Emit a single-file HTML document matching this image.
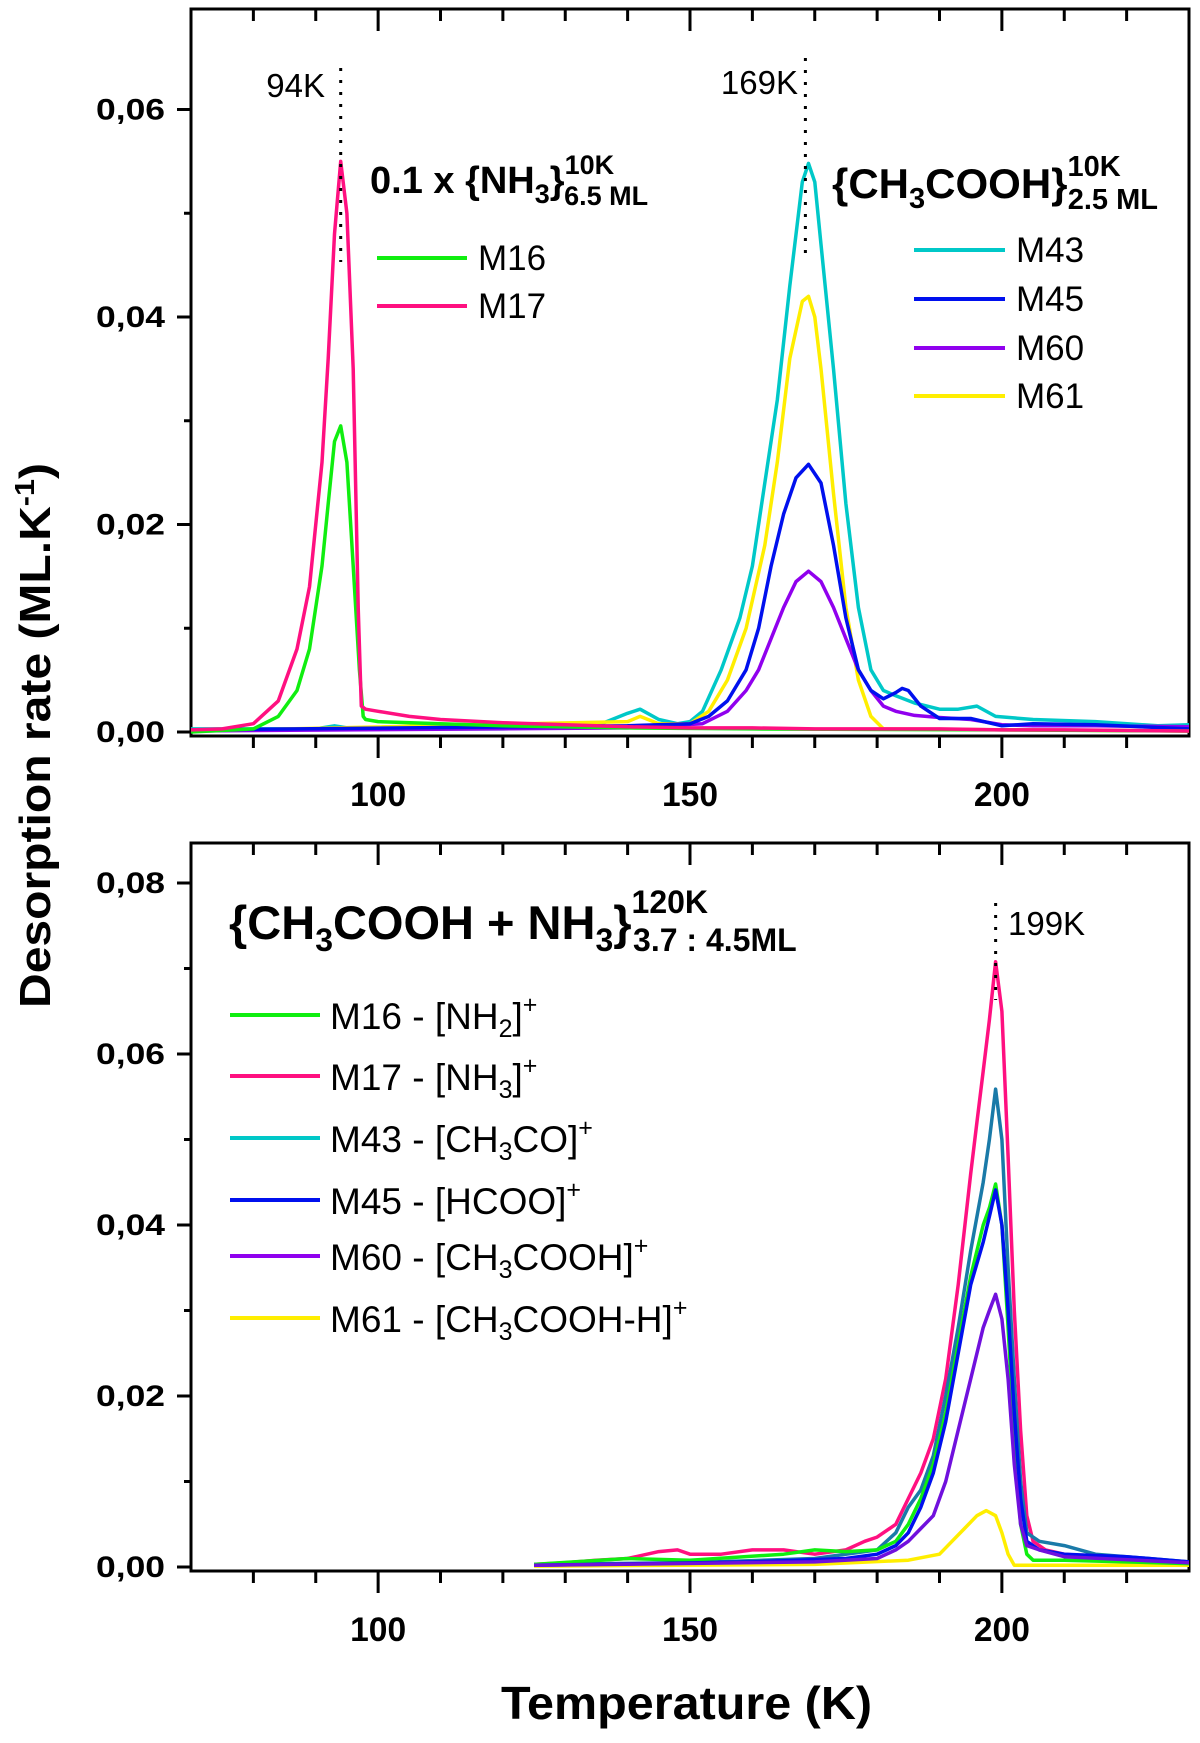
<!DOCTYPE html>
<html><head><meta charset="utf-8"><style>
html,body{margin:0;padding:0;background:#fff;}
svg{display:block;font-family:"Liberation Sans",Arial,sans-serif;}
</style></head><body>
<svg id="chart" width="1200" height="1743" viewBox="0 0 1200 1743" xmlns="http://www.w3.org/2000/svg">
<g id="axes"></g><g id="series"></g><g id="labels"></g>
</svg>
<script>
// ---- data (top panel: pure films) ----
const topM17T=[70,75,80,84,87,89,91,92,93,94,95,96,96.8,97.3,98,100,105,110,120,130,140,150,160,170,180,190,200,210,230];
const topM17V=[0.0002,0.0003,0.0008,0.003,0.008,0.014,0.026,0.036,0.048,0.055,0.05,0.035,0.012,0.0025,0.0022,0.002,0.0015,0.0012,0.0009,0.0007,0.0005,0.0004,0.0004,0.0003,0.0003,0.0003,0.0002,0.0002,0.0001];
const topM16T=[70,80,84,87,89,91,92,93,94,95,96,97,97.6,98,100,110,120,140,160,200,230];
const topM16V=[0,0.0003,0.0015,0.004,0.008,0.016,0.022,0.028,0.0295,0.026,0.016,0.006,0.0015,0.0012,0.001,0.0008,0.0006,0.0004,0.0003,0.0002,0.0001];
const topM43T=[70,90,93,96,120,135,140,142,145,148,150,152,155,158,160,162,164,166,168,169,170,171,173,175,177,179,181,183,186,190,193,196,199,205,215,225,230];
const topM43V=[0.0003,0.0003,0.0006,0.0003,0.0003,0.0006,0.0018,0.0022,0.0012,0.0008,0.001,0.002,0.006,0.011,0.016,0.024,0.032,0.043,0.053,0.0548,0.053,0.047,0.035,0.022,0.012,0.006,0.004,0.0035,0.0028,0.0022,0.0022,0.0025,0.0015,0.0012,0.001,0.0006,0.0007];
const topM61T=[70,140,142,145,150,153,156,159,162,164,166,168,169,170,171,173,175,177,179,181,230];
const topM61V=[0.0001,0.001,0.0015,0.0008,0.0008,0.002,0.005,0.01,0.018,0.026,0.036,0.0415,0.042,0.04,0.035,0.023,0.012,0.005,0.0015,0.0003,0.0001];
const topM45T=[70,140,150,153,156,159,161,163,165,167,169,171,173,175,177,179,181,183,184,185,187,190,195,200,205,215,230];
const topM45V=[0.0002,0.0006,0.0008,0.0015,0.003,0.006,0.01,0.016,0.021,0.0245,0.0258,0.024,0.018,0.011,0.006,0.004,0.0032,0.0038,0.0042,0.004,0.0025,0.0013,0.0013,0.0006,0.0008,0.0007,0.0003];
const topM60T=[70,140,152,156,159,161,163,165,167,169,171,173,175,177,179,181,183,186,190,195,200,205,215,230];
const topM60V=[0.0001,0.0004,0.0008,0.002,0.004,0.006,0.009,0.012,0.0145,0.0155,0.0145,0.012,0.009,0.006,0.004,0.0025,0.002,0.0016,0.0014,0.0012,0.0007,0.0006,0.0006,0.0005];
// ---- data (bottom panel: mixture) ----
const botM17T=[125,130,135,140,145,148,150,155,160,165,170,175,178,180,183,185,187,189,191,193,195,196,197,198,199,200,201,202,203,204,205,207,210,220,230];
const botM17V=[0.0003,0.0005,0.0008,0.001,0.0018,0.002,0.0015,0.0015,0.002,0.002,0.0015,0.002,0.003,0.0035,0.005,0.008,0.011,0.015,0.022,0.033,0.046,0.052,0.058,0.064,0.0708,0.065,0.048,0.03,0.016,0.006,0.003,0.002,0.0015,0.001,0.0006];
const botM43T=[125,150,170,180,183,185,187,189,191,193,195,197,198,199,200,201,202,203,204,206,210,215,220,230];
const botM43V=[0.0003,0.0005,0.001,0.002,0.004,0.007,0.009,0.013,0.02,0.028,0.037,0.045,0.05,0.0559,0.05,0.035,0.022,0.01,0.004,0.003,0.0025,0.0015,0.0012,0.0006];
const botM16T=[125,140,150,165,170,175,180,183,185,187,189,191,193,195,197,198,199,200,201,202,203,204,205,210,230];
const botM16V=[0.0003,0.001,0.0008,0.0015,0.002,0.0018,0.002,0.003,0.005,0.008,0.012,0.018,0.026,0.034,0.04,0.042,0.0448,0.04,0.028,0.015,0.005,0.0015,0.0008,0.0008,0.0004];
const botM45T=[125,160,175,180,183,185,187,189,191,193,195,197,198,199,200,201,202,203,204,206,210,220,230];
const botM45V=[0.0002,0.0006,0.001,0.0015,0.0025,0.004,0.007,0.011,0.017,0.025,0.033,0.038,0.041,0.0441,0.04,0.03,0.018,0.008,0.003,0.002,0.0015,0.0012,0.0006];
const botM60T=[125,170,180,183,185,187,189,191,193,195,197,198,199,200,201,202,203,204,206,210,230];
const botM60V=[0.0002,0.0006,0.001,0.002,0.003,0.0045,0.006,0.01,0.016,0.022,0.028,0.03,0.0319,0.029,0.022,0.012,0.005,0.0025,0.002,0.0012,0.0005];
const botM61T=[125,170,185,190,192,194,196,197.5,199,200,201,202,230];
const botM61V=[0.0001,0.0003,0.0008,0.0015,0.003,0.0045,0.006,0.0066,0.006,0.004,0.0015,0.0002,0.0002];
// ---- ticks ----
const xTickLabels=["100","150","200"];
const xTickValues=[100,150,200];
const topYTickValues=[0,0.02,0.04,0.06];
const topYTickLabels=["0,00","0,02","0,04","0,06"];
const botYTickValues=[0,0.02,0.04,0.06,0.08];
const botYTickLabels=["0,00","0,02","0,04","0,06","0,08"];

const NS="http://www.w3.org/2000/svg";
const X0=191,X1=1189,TMIN=70,TMAX=230;
function xs(t){return X0+(t-TMIN)/(TMAX-TMIN)*(X1-X0);}
const topP={top:9,bot:736,y0:732,k:207.5/0.02};
const botP={top:843,bot:1571,y0:1567,k:171/0.02};
function ys(p,v){return p.y0-v*p.k;}
function mk(tag,attrs,parent){const e=document.createElementNS(NS,tag);for(const a in attrs)e.setAttribute(a,attrs[a]);parent.appendChild(e);return e;}
const axes=document.getElementById('axes'),series=document.getElementById('series'),labels=document.getElementById('labels');

const defs=mk('defs',{},document.getElementById('chart'));
[['clipTop',topP],['clipBot',botP]].forEach(([id,p])=>{const c=mk('clipPath',{id:id},defs);mk('rect',{x:X0,y:p.top,width:X1-X0,height:p.bot-p.top},c);});

function panel(p,yv,yl,name){
  const f=mk('rect',{x:X0,y:p.top,width:X1-X0,height:p.bot-p.top,fill:'none',stroke:'#000','stroke-width':3},axes);
  
  
  for(let t=80;t<=220;t+=10){
    const major=(t%50===0);
    const b=mk('line',{x1:xs(t),x2:xs(t),y1:p.bot,y2:p.bot+(major?22:12),stroke:'#000','stroke-width':3},axes);
    
    
    const u=mk('line',{x1:xs(t),x2:xs(t),y1:p.top,y2:p.top+(major?22:12),stroke:'#000','stroke-width':3},axes);
    
    
  }
  xTickValues.forEach((t,i)=>{
    const tx=mk('text',{x:xs(t),y:p.bot+70,'text-anchor':'middle','font-size':34,'font-weight':'bold',textLength:56,lengthAdjust:'spacingAndGlyphs'},labels);
    tx.textContent=xTickLabels[i];
    
    
  });
  const vmax=(p.y0-p.top)/p.k;
  for(let v=0;v<=vmax+1e-9;v+=0.01){
    const major=Math.round(v*100)%2===0;
    const l=mk('line',{x1:X0-(major?14:7),x2:X0,y1:ys(p,v),y2:ys(p,v),stroke:'#000','stroke-width':3},axes);
    
    
  }
  yv.forEach((v,i)=>{
    const tx=mk('text',{x:165,y:ys(p,v)+10,'text-anchor':'end','font-size':30,'font-weight':'bold',textLength:69,lengthAdjust:'spacingAndGlyphs'},labels);
    tx.textContent=yl[i];
    
    
  });
}
panel(topP,topYTickValues,topYTickLabels,'top-panel');
panel(botP,botYTickValues,botYTickLabels,'bottom-panel');

function line(p,T,V,color,name,clip){
  const d=T.map((t,i)=>(i?'L':'M')+xs(t).toFixed(1)+' '+ys(p,V[i]).toFixed(1)).join(' ');
  const e=mk('path',{d:d,fill:'none',stroke:color,'stroke-width':3.5,'stroke-linejoin':'round','clip-path':'url(#'+clip+')'},series);
  
  
}
line(topP,topM43T,topM43V,'#00c8c8','top-m43-line','clipTop');
line(topP,topM61T,topM61V,'#ffee00','top-m61-line','clipTop');
line(topP,topM60T,topM60V,'#9000ee','top-m60-line','clipTop');
line(topP,topM45T,topM45V,'#0010ee','top-m45-line','clipTop');
line(topP,topM16T,topM16V,'#10ee10','top-m16-line','clipTop');
line(topP,topM17T,topM17V,'#ff1080','top-m17-line','clipTop');
line(botP,botM61T,botM61V,'#ffee00','bottom-m61-line','clipBot');
line(botP,botM17T,botM17V,'#ff1080','bottom-m17-line','clipBot');
line(botP,botM43T,botM43V,'#1a7aa8','bottom-m43-line','clipBot');
line(botP,botM16T,botM16V,'#10ee10','bottom-m16-line','clipBot');
line(botP,botM45T,botM45V,'#0010ee','bottom-m45-line','clipBot');
line(botP,botM60T,botM60V,'#7010dd','bottom-m60-line','clipBot');

[[topP,94,68,262,'peak-94k-marker'],[topP,168.5,58,255,'peak-169k-marker'],[botP,199,903,1000,'peak-199k-marker']].forEach(([p,t,y1,y2,n])=>{
  const l=mk('line',{x1:xs(t),x2:xs(t),y1:y1,y2:y2,stroke:'#000','stroke-width':3,'stroke-dasharray':'3 9'},labels);
  
  
});
</script>
<svg style="position:absolute;left:0;top:0" width="1200" height="1743">
<g font-family="Liberation Sans, Arial, sans-serif" fill="#000">
<text x="325" y="97" font-size="33" text-anchor="end">94K</text>
<text x="798" y="94" font-size="33" text-anchor="end">169K</text>
<text x="1008" y="935" font-size="33">199K</text>
<text x="370" y="193" font-size="38" font-weight="bold">0.1 x {NH<tspan font-size="27" dy="10">3</tspan><tspan dy="-10">}</tspan><tspan font-size="27" dy="-19">10K</tspan><tspan font-size="27" dx="-50" dy="31">6.5 ML</tspan></text>
<text x="832" y="198" font-size="42" font-weight="bold">{CH<tspan font-size="29" dy="10">3</tspan><tspan dy="-10">COOH}</tspan><tspan font-size="29" dy="-22">10K</tspan><tspan font-size="29" dx="-53" dy="33">2.5 ML</tspan></text>
<text x="229" y="939" font-size="47" font-weight="bold">{CH<tspan font-size="32" dy="12">3</tspan><tspan dy="-12">COOH + NH</tspan><tspan font-size="32" dy="12">3</tspan><tspan dy="-12">}</tspan><tspan font-size="32" dy="-26">120K</tspan><tspan font-size="32" dx="-75" dy="38">3.7 : 4.5ML</tspan></text>
<g font-size="35">
<line x1="377" y1="258" x2="467" y2="258" stroke="#10ee10" stroke-width="4"/><text x="478" y="270">M16</text>
<line x1="377" y1="306" x2="467" y2="306" stroke="#ff1080" stroke-width="4"/><text x="478" y="318">M17</text>
</g>
<g font-size="35">
<line x1="914" y1="250" x2="1005" y2="250" stroke="#00c8c8" stroke-width="4"/><text x="1016" y="262">M43</text>
<line x1="914" y1="299" x2="1005" y2="299" stroke="#0010ee" stroke-width="4"/><text x="1016" y="311">M45</text>
<line x1="914" y1="348" x2="1005" y2="348" stroke="#9000ee" stroke-width="4"/><text x="1016" y="360">M60</text>
<line x1="914" y1="396" x2="1005" y2="396" stroke="#ffee00" stroke-width="4"/><text x="1016" y="408">M61</text>
</g>
<g font-size="37">
<line x1="230" y1="1015" x2="320" y2="1015" stroke="#10ee10" stroke-width="4"/><text x="330" y="1029">M16 - [NH<tspan font-size="25" dy="8">2</tspan><tspan dy="-8">]</tspan><tspan font-size="25" dy="-16">+</tspan></text>
<line x1="230" y1="1076" x2="320" y2="1076" stroke="#ff1080" stroke-width="4"/><text x="330" y="1090">M17 - [NH<tspan font-size="25" dy="8">3</tspan><tspan dy="-8">]</tspan><tspan font-size="25" dy="-16">+</tspan></text>
<line x1="230" y1="1138" x2="320" y2="1138" stroke="#00c8c8" stroke-width="4"/><text x="330" y="1152">M43 - [CH<tspan font-size="25" dy="8">3</tspan><tspan dy="-8">CO]</tspan><tspan font-size="25" dy="-16">+</tspan></text>
<line x1="230" y1="1200" x2="320" y2="1200" stroke="#0010ee" stroke-width="4"/><text x="330" y="1214">M45 - [HCOO]<tspan font-size="25" dy="-16">+</tspan></text>
<line x1="230" y1="1256" x2="320" y2="1256" stroke="#9000ee" stroke-width="4"/><text x="330" y="1270">M60 - [CH<tspan font-size="25" dy="8">3</tspan><tspan dy="-8">COOH]</tspan><tspan font-size="25" dy="-16">+</tspan></text>
<line x1="230" y1="1318" x2="320" y2="1318" stroke="#ffee00" stroke-width="4"/><text x="330" y="1332">M61 - [CH<tspan font-size="25" dy="8">3</tspan><tspan dy="-8">COOH-H]</tspan><tspan font-size="25" dy="-16">+</tspan></text>
</g>
<text x="501" y="1719" font-size="46" font-weight="bold" textLength="371" lengthAdjust="spacingAndGlyphs">Temperature (K)</text>
<text transform="translate(50,1008) rotate(-90)" font-size="44" font-weight="bold" textLength="545" lengthAdjust="spacingAndGlyphs">Desorption rate (ML.K<tspan font-size="28" dy="-16">-1</tspan><tspan dy="16">)</tspan></text>
</g>
</svg>
</body></html>
